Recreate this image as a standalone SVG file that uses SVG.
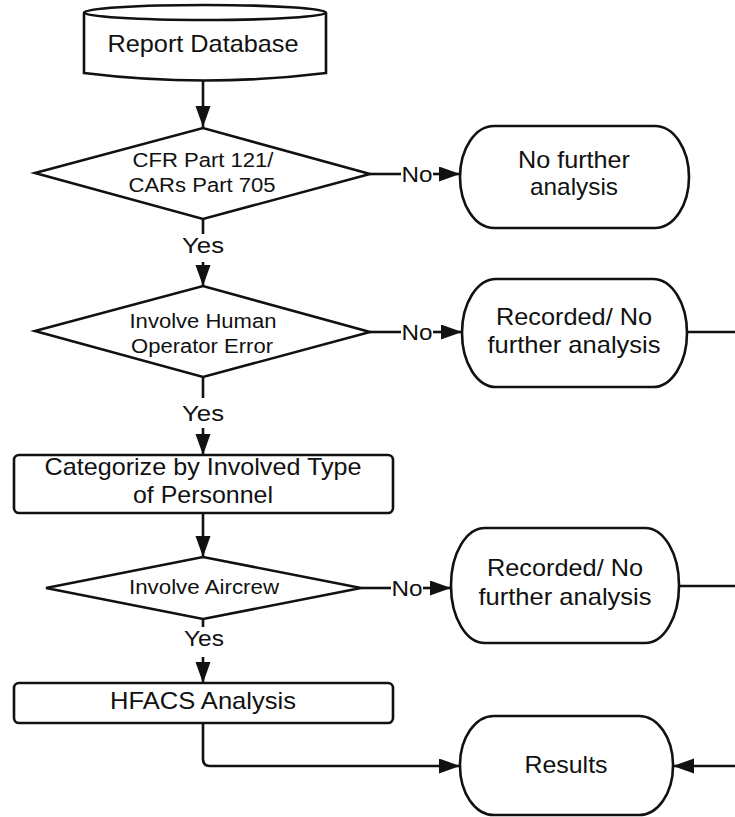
<svg xmlns="http://www.w3.org/2000/svg" width="735" height="817" viewBox="0 0 735 817">
<style>
.s{fill:#fff;stroke:#111;stroke-width:2.6}
.c{fill:none;stroke:#111;stroke-width:2.6}
text{font-family:"Liberation Sans",Arial,sans-serif;fill:#111;text-anchor:middle}
.t{font-size:24px}
.d{font-size:20px}
.l{font-size:22px}
</style>
<defs>
<marker id="ah" markerUnits="userSpaceOnUse" markerWidth="22" markerHeight="16" refX="21" refY="7.5" orient="auto" viewBox="0 0 22 16">
<path d="M0,0 L21,7.5 L0,15 z" fill="#111"/>
</marker>
</defs>
<rect width="735" height="817" fill="#fff"/>
<g id="connectors">
<path class="c" d="M203,80 L203,127" marker-end="url(#ah)"/>
<path class="c" d="M370,174 L401,174"/>
<path class="c" d="M433,174 L460,174" marker-end="url(#ah)"/>
<text class="l" x="417" y="182" textLength="31" lengthAdjust="spacingAndGlyphs">No</text>
<path class="c" d="M203,219 L203,234"/>
<text class="l" x="203" y="253" textLength="42" lengthAdjust="spacingAndGlyphs">Yes</text>
<path class="c" d="M203,262 L203,286" marker-end="url(#ah)"/>
<path class="c" d="M370,332 L401,332"/>
<path class="c" d="M433,332 L462,332" marker-end="url(#ah)"/>
<text class="l" x="417" y="340" textLength="31" lengthAdjust="spacingAndGlyphs">No</text>
<path class="c" d="M203,377 L203,398"/>
<text class="l" x="203" y="421" textLength="42" lengthAdjust="spacingAndGlyphs">Yes</text>
<path class="c" d="M203,428 L203,455" marker-end="url(#ah)"/>
<path class="c" d="M687,332 L735,332"/>
<path class="c" d="M203,513 L203,557" marker-end="url(#ah)"/>
<path class="c" d="M361,588 L391,588"/>
<path class="c" d="M423,588 L451,588" marker-end="url(#ah)"/>
<text class="l" x="407" y="596" textLength="31" lengthAdjust="spacingAndGlyphs">No</text>
<path class="c" d="M679,586 L735,586"/>
<path class="c" d="M203,619 L203,627"/>
<text class="l" x="204" y="646" textLength="40" lengthAdjust="spacingAndGlyphs">Yes</text>
<path class="c" d="M203,657 L203,683" marker-end="url(#ah)"/>
<path class="c" d="M203,723 L203,759 Q203,766 210,766 L460,766" marker-end="url(#ah)"/>
<path class="c" d="M735,766 L673,766" marker-end="url(#ah)"/>
</g>
<g id="report-database">
<path class="s" d="M84,13 L84,73 Q205,88 326,73 L326,13"/>
<ellipse class="s" cx="205" cy="12.5" rx="121" ry="7.5"/>
<text class="t" x="203" y="52" textLength="191" lengthAdjust="spacingAndGlyphs">Report Database</text>
</g>
<g id="cfr-decision">
<polygon class="s" points="35,173 203,128 370,174 203,219"/>
<text class="d" x="203" y="167" textLength="141" lengthAdjust="spacingAndGlyphs">CFR Part 121/</text>
<text class="d" x="202" y="192" textLength="147" lengthAdjust="spacingAndGlyphs">CARs Part 705</text>
</g>
<g id="no-further-analysis">
<rect class="s" x="460" y="126" width="229" height="102" rx="34" ry="51"/>
<text class="t" x="574" y="168" textLength="112" lengthAdjust="spacingAndGlyphs">No further</text>
<text class="t" x="574" y="195" textLength="88" lengthAdjust="spacingAndGlyphs">analysis</text>
</g>
<g id="human-error-decision">
<polygon class="s" points="35,331 203,286 370,332 203,377"/>
<text class="d" x="203" y="328" textLength="147" lengthAdjust="spacingAndGlyphs">Involve Human</text>
<text class="d" x="202" y="353" textLength="142" lengthAdjust="spacingAndGlyphs">Operator Error</text>
</g>
<g id="recorded-1">
<rect class="s" x="462" y="279" width="225" height="108" rx="34" ry="54"/>
<text class="t" x="574" y="325" textLength="156" lengthAdjust="spacingAndGlyphs">Recorded/ No</text>
<text class="t" x="574" y="353" textLength="173" lengthAdjust="spacingAndGlyphs">further analysis</text>
</g>
<g id="categorize">
<rect class="s" x="14" y="455" width="379" height="58" rx="5"/>
<text class="t" x="203" y="475" textLength="317" lengthAdjust="spacingAndGlyphs">Categorize by Involved Type</text>
<text class="t" x="203" y="503" textLength="140" lengthAdjust="spacingAndGlyphs">of Personnel</text>
</g>
<g id="aircrew-decision">
<polygon class="s" points="46,588 203,557 361,588 203,619"/>
<text class="d" x="204" y="594" textLength="150" lengthAdjust="spacingAndGlyphs">Involve Aircrew</text>
</g>
<g id="recorded-2">
<rect class="s" x="451" y="528" width="228" height="115" rx="34" ry="57"/>
<text class="t" x="565" y="576" textLength="156" lengthAdjust="spacingAndGlyphs">Recorded/ No</text>
<text class="t" x="565" y="605" textLength="173" lengthAdjust="spacingAndGlyphs">further analysis</text>
</g>
<g id="hfacs">
<rect class="s" x="14" y="683" width="379" height="40" rx="5"/>
<text class="t" x="203" y="709" textLength="186" lengthAdjust="spacingAndGlyphs">HFACS Analysis</text>
</g>
<g id="results">
<rect class="s" x="460" y="716" width="213" height="99" rx="34" ry="49"/>
<text class="t" x="566" y="773" textLength="83" lengthAdjust="spacingAndGlyphs">Results</text>
</g>
</svg>
